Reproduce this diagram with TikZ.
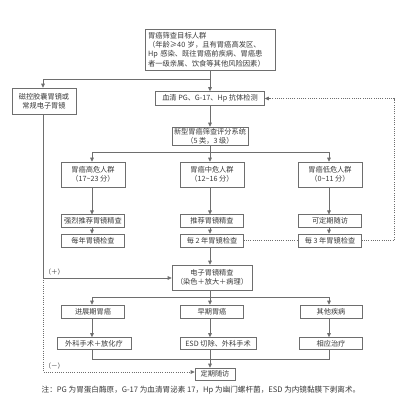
\documentclass[tikz,border=0pt]{standalone}
\usepackage{fontspec}
\setmainfont{Noto Sans CJK SC}
\usetikzlibrary{arrows.meta}
\definecolor{linec}{HTML}{6E6E6E}
\definecolor{textc}{HTML}{3A3A3A}
\newcommand{\tld}{{\char"007E}}
\begin{document}
\begin{tikzpicture}[x=1pt,y=-1pt,
  line/.style={draw=linec, line width=0.6pt},
  arr/.style={line, -{Triangle[length=4pt,width=3.6pt]}},
  dotline/.style={line, dash pattern=on 1pt off 1.2pt},
  dotarr/.style={dotline, -{Triangle[length=4pt,width=3.6pt]}},
  box/.style={draw=linec, line width=0.6pt, text=textc, inner sep=1pt, align=center, font=\fontsize{7.2}{9}\selectfont},
  lbl/.style={text=textc, inner sep=0.5pt, font=\fontsize{6.5}{8}\selectfont},
]
\useasboundingbox[fill=white] (0,0) rectangle (410,405);

% top
\node[box, minimum width=130, minimum height=41, text width=124, align=left, font=\fontsize{7.3}{9.3}\selectfont] (top) at (210,49.5)
  {胃癌筛查目标人群\\（年龄≥40 岁，且有胃癌高发区、\\Hp 感染、既往胃癌前疾病、胃癌患\\者一级亲属、饮食等其他风险因素）};
\node[box, minimum width=64, minimum height=26] (left) at (44,101) {磁控胶囊胃镜或\\常规电子胃镜};
\node[box, minimum width=109, minimum height=14] (serum) at (210,98.5) {血清 PG、G-17、Hp 抗体检测};
\node[box, minimum width=76, minimum height=18] (score) at (210,136) {新型胃癌筛查评分系统\\（5 类，3 级）};

% row 1
\node[box, minimum width=64, minimum height=25] (h1) at (93,174.5) {胃癌高危人群\\（17\tld23 分）};
\node[box, minimum width=64, minimum height=25] (m1) at (212,174.5) {胃癌中危人群\\（12\tld16 分）};
\node[box, minimum width=64, minimum height=25] (l1) at (330,174.5) {胃癌低危人群\\（0\tld11 分）};
% row 2
\node[box, minimum width=63, minimum height=12.5] (h2) at (93,221) {强烈推荐胃镜精查};
\node[box, minimum width=63, minimum height=12.5] (m2) at (212,221) {推荐胃镜精查};
\node[box, minimum width=63, minimum height=12.5] (l2) at (330,221) {可定期随访};
% row 3
\node[box, minimum width=63, minimum height=13] (h3) at (93,240.5) {每年胃镜检查};
\node[box, minimum width=63, minimum height=13] (m3) at (212,240.5) {每 2 年胃镜检查};
\node[box, minimum width=63, minimum height=13] (l3) at (330,240.5) {每 3 年胃镜检查};

% electronic
\node[box, minimum width=80, minimum height=25] (ele) at (212,277.5) {电子胃镜精查\\（染色＋放大＋病理）};

% row 4
\node[box, minimum width=63, minimum height=13] (h4) at (93,311.5) {进展期胃癌};
\node[box, minimum width=63, minimum height=13] (m4) at (212,311.5) {早期胃癌};
\node[box, minimum width=62, minimum height=13] (l4) at (331,311.5) {其他疾病};
% row 5
\node[box, minimum width=74, minimum height=12] (h5) at (94,343.5) {外科手术＋放化疗};
\node[box, minimum width=76, minimum height=12] (m5) at (218,343.5) {ESD 切除、外科手术};
\node[box, minimum width=63, minimum height=12] (l5) at (331,343.5) {相应治疗};

\node[box, minimum width=40, minimum height=12] (fin) at (215,374) {定期随访};

% junction coordinates
\coordinate (j0) at (210,79);
\coordinate (j0l) at (43,79);
\coordinate (j1) at (210,152);
\coordinate (j1l) at (92,152);
\coordinate (j1r) at (329,152);
\coordinate (jp) at (43,278);
\coordinate (jm) at (43,372);
\coordinate (j2) at (210,297);
\coordinate (j2l) at (92,297);
\coordinate (j2r) at (329,297);
\coordinate (j3) at (210,359);
\coordinate (j3l) at (92,359);
\coordinate (j3r) at (329,359);
\coordinate (rd) at (394,240.5);
\coordinate (ru) at (394,98.5);

% connectors
\draw[line] (top.south -| j0) -- (j0);
\draw[line] (j0) -- (j0l);
\draw[arr] (j0l) -- (j0l |- left.north);
\draw[arr] (j0) -- (serum.north);
\draw[arr] (serum.south) -- (score.north);
\draw[line] (score.south -| j1) -- (j1);
\draw[line] (j1l) -- (j1r);
\draw[arr] (j1l) -- (j1l |- h1.north);
\draw[arr] (j1) -- (j1 |- m1.north);
\draw[arr] (j1r) -- (j1r |- l1.north);

\draw[arr] (h1.south -| j1l) -- (j1l |- h2.north);
\draw[arr] (h2.south -| j1l) -- (j1l |- h3.north);
\draw[arr] (m1.south -| j1) -- (j1 |- m2.north);
\draw[arr] (m2.south -| j1) -- (j1 |- m3.north);
\draw[arr] (l1.south -| j1r) -- (j1r |- l2.north);
\draw[arr] (l2.south -| j1r) -- (j1r |- l3.north);

\draw[dotline] (m3.east) -- (l3.west);
\draw[dotarr] (l3.east) -- (rd) -- (ru) -- (serum.east);

\draw[arr] (m3.south -| j1) -- (j1 |- ele.north);
\draw[line] (left.south -| jp) -- (jp);
\draw[arr] (jp) -- (ele.west |- jp);
\node[lbl, anchor=south west] (plus) at (44,275.5) {（＋）};
\draw[dotarr] (jp) -- (jm) -- (fin.west |- jm);
\node[lbl, anchor=south west] (minus) at (44,369.5) {（－）};

\draw[line] (ele.south -| j2) -- (j2);
\draw[line] (j2l) -- (j2r);
\draw[arr] (j2l) -- (j2l |- h4.north);
\draw[arr] (j2) -- (j2 |- m4.north);
\draw[arr] (j2r) -- (j2r |- l4.north);
\draw[arr] (h4.south -| j2l) -- (j2l |- h5.north);
\draw[arr] (m4.south -| j2) -- (j2 |- m5.north);
\draw[arr] (l4.south -| j2r) -- (j2r |- l5.north);

\draw[line] (h5.south -| j3l) -- (j3l) -- (j3r) -- (l5.south -| j3r);
\draw[line] (m5.south -| j3) -- (j3);
\draw[arr] (j3) -- (j3 |- fin.north);

\node[text=textc, inner sep=0pt, font=\fontsize{7.6}{8}\selectfont] (note) at (201,390)
  {注：PG 为胃蛋白酶原，G-17 为血清胃泌素 17，Hp 为幽门螺杆菌，ESD 为内镜黏膜下剥离术。};
\end{tikzpicture}
\end{document}
